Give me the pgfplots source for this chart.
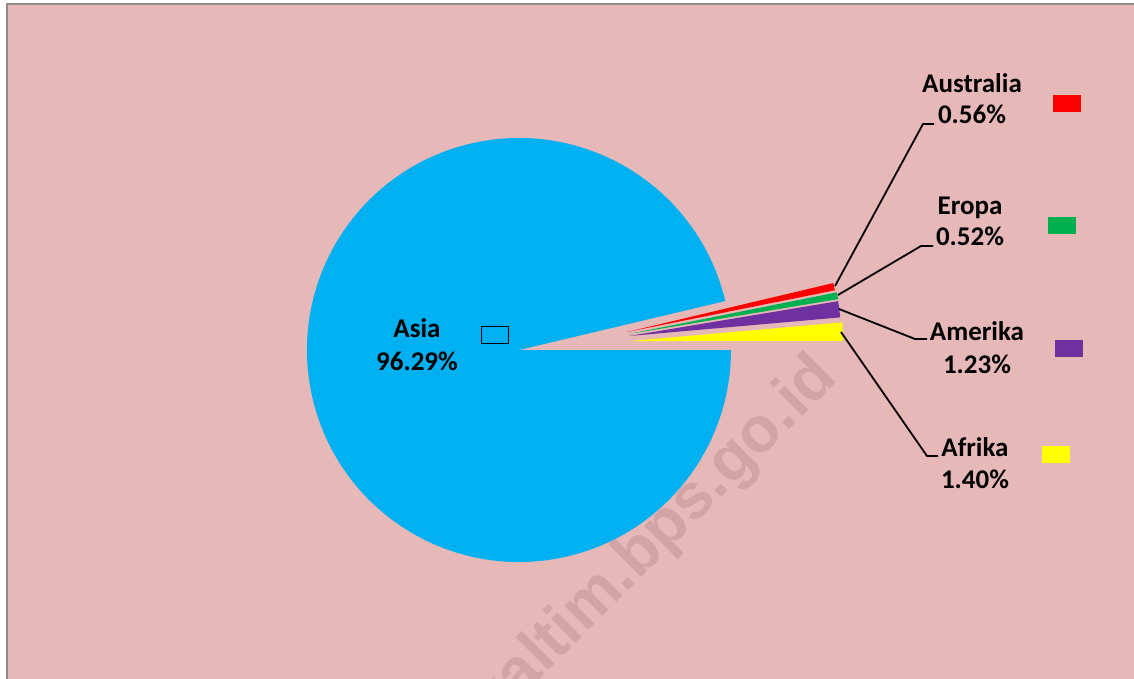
\documentclass[border=0pt]{standalone}
\usepackage{pgfplots}
\pgfplotsset{compat=1.18}
\usepackage{fontspec}
\setmainfont{Carlito}
\newfontfamily\wmfont{Liberation Sans}
\definecolor{bgpink}{HTML}{E6B8B7}
\definecolor{framegray}{HTML}{8C8C8C}
\definecolor{wmcol}{HTML}{D3A4A5}
\definecolor{asiacol}{HTML}{00B0F0}
\definecolor{afrcol}{HTML}{FFFF00}
\definecolor{amecol}{HTML}{7030A0}
\definecolor{erocol}{HTML}{00B050}
\definecolor{auscol}{HTML}{FF0000}

% shares in percent
\def\pAsia{96.29}
\def\pAfrika{1.40}
\def\pAmerika{1.23}
\def\pEropa{0.52}
\def\pAustralia{0.56}

\newcommand{\lbl}{\bfseries\fontsize{13.5}{15}\selectfont}

\begin{document}
\begin{tikzpicture}
\begin{axis}[
  width=567pt, height=339.5pt, scale only axis,
  xmin=0, xmax=1134, ymin=0, ymax=679, y dir=reverse,
  hide axis, clip=true,
]
% chart area
\fill[bgpink] (axis cs:6.5,4.5) rectangle (axis cs:1134,679);
\draw[framegray, line width=1pt] (axis cs:6.5,679) |- (axis cs:1134,4.5);

% watermark
\node[wmcol, rotate=45, anchor=base, font=\wmfont\bfseries\fontsize{32}{36}\selectfont]
  at (axis cs:667,552) {kaltim.bps.go.id};

% pie (radius 212 px = 106pt)
\pgfmathsetmacro{\aA}{3.6*\pAfrika}
\pgfmathsetmacro{\aB}{\aA+3.6*\pAmerika}
\pgfmathsetmacro{\aC}{\aB+3.6*\pEropa}
\pgfmathsetmacro{\aD}{\aC+3.6*\pAustralia}
\fill[asiacol] (axis cs:519,350) -- ++(\aD:106pt) arc[start angle=\aD, end angle=360, radius=106pt] -- cycle;
\fill[afrcol] (axis cs:631,341) -- ++(0:106pt) arc[start angle=0, end angle=\aA, radius=106pt] -- cycle;
\fill[amecol] (axis cs:629,336) -- ++(\aA:106pt) arc[start angle=\aA, end angle=\aB, radius=106pt] -- cycle;
\fill[erocol] (axis cs:629,334) -- ++(\aB:106pt) arc[start angle=\aB, end angle=\aC, radius=106pt] -- cycle;
\fill[auscol] (axis cs:627,332) -- ++(\aC:106pt) arc[start angle=\aC, end angle=\aD, radius=106pt] -- cycle;

% leader lines
\draw[black, line width=0.9pt] (axis cs:835,286) -- (axis cs:923,124) -- (axis cs:934,124);
\draw[black, line width=0.9pt] (axis cs:838,295) -- (axis cs:921,246) -- (axis cs:933,246);
\draw[black, line width=0.9pt] (axis cs:839,309) -- (axis cs:915,339) -- (axis cs:927,339);
\draw[black, line width=0.9pt] (axis cs:841,332) -- (axis cs:927,456) -- (axis cs:938,456);

% data labels
\node[anchor=base, font=\lbl] at (axis cs:972,93) {Australia};
\node[anchor=base, font=\lbl] at (axis cs:972,124) {0.56\%};
\node[anchor=base, font=\lbl] at (axis cs:970,214) {Eropa};
\node[anchor=base, font=\lbl] at (axis cs:970,246) {0.52\%};
\node[anchor=base, font=\lbl] at (axis cs:977,340) {Amerika};
\node[anchor=base, font=\lbl] at (axis cs:977,373) {1.23\%};
\node[anchor=base, font=\lbl] at (axis cs:975,456) {Afrika};
\node[anchor=base, font=\lbl] at (axis cs:975,488) {1.40\%};
\node[anchor=base, font=\lbl] at (axis cs:417,337) {Asia};
\node[anchor=base, font=\lbl] at (axis cs:417,370) {96.29\%};

% legend keys
\fill[auscol] (axis cs:1053,95) rectangle (axis cs:1081,112);
\fill[erocol] (axis cs:1048,217) rectangle (axis cs:1076,234);
\fill[amecol] (axis cs:1055,340) rectangle (axis cs:1083,357);
\fill[afrcol] (axis cs:1042,446) rectangle (axis cs:1070,463);
\filldraw[fill=asiacol, draw=black, line width=0.4pt] (axis cs:481,326) rectangle (axis cs:508,343);
\end{axis}
\pgfresetboundingbox
\path (current axis.south west) rectangle (current axis.north east);
\end{tikzpicture}
\end{document}
